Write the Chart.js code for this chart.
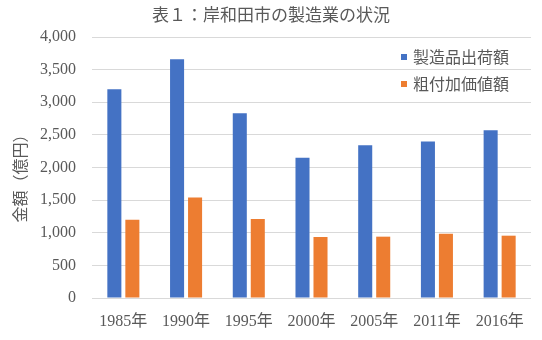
<!DOCTYPE html>
<html>
<head>
<meta charset="utf-8">
<script src="https://cdn.jsdelivr.net/npm/chart.js@4/dist/chart.umd.min.js"></script>
<style>
html,body{margin:0;padding:0;background:#fff;}
canvas{display:block;}
</style>
</head>
<body>
<canvas id="c" width="542" height="340"></canvas>
<script>
const categories = ['1985年','1990年','1995年','2000年','2005年','2011年','2016年'];
const shipmentValues = [3200, 3660, 2830, 2150, 2340, 2400, 2570];
const valueAddedValues = [1200, 1540, 1210, 935, 940, 985, 955];
const seriesNames = ['製造品出荷額', '粗付加価値額'];
const chartTitle = '表１：岸和田市の製造業の状況';
const yAxisTitle = '金額（億円）';

const TEXT = '#595959';
const FONT = "'Liberation Serif', 'Noto Sans CJK JP', serif";
const CJK = "'Noto Sans CJK JP', sans-serif";

const insideLegend = {
  id: 'insideLegend',
  afterDatasetsDraw(chart) {
    const ctx = chart.ctx;
    const a = chart.chartArea;
    ctx.save();
    ctx.font = "16px " + CJK;
    ctx.textBaseline = 'middle';
    ctx.textAlign = 'left';
    chart.data.datasets.forEach((ds, i) => {
      const y = a.top + 20 + i * 27;
      const x = a.right - 130;
      ctx.fillStyle = ds.backgroundColor;
      ctx.fillRect(x, y - 3, 6, 6);
      ctx.fillStyle = TEXT;
      ctx.fillText(ds.label, x + 12, y);
    });
    ctx.restore();
  }
};

const yTitlePlugin = {
  id: 'yTitlePlugin',
  afterDraw(chart) {
    const ctx = chart.ctx;
    const a = chart.chartArea;
    ctx.save();
    ctx.font = "16px " + CJK;
    ctx.fillStyle = TEXT;
    ctx.textAlign = 'center';
    ctx.textBaseline = 'middle';
    ctx.translate(20, (a.top + a.bottom) / 2 + 7);
    ctx.rotate(-Math.PI / 2);
    ctx.fillText(yAxisTitle, 0, 0);
    ctx.restore();
  }
};

new Chart(document.getElementById('c'), {
  type: 'bar',
  data: {
    labels: categories,
    datasets: [
      { label: seriesNames[0], data: shipmentValues, backgroundColor: '#4472C4',
        categoryPercentage: 0.574, barPercentage: 0.78 },
      { label: seriesNames[1], data: valueAddedValues, backgroundColor: '#ED7D31',
        categoryPercentage: 0.574, barPercentage: 0.78 }
    ]
  },
  options: {
    responsive: false,
    devicePixelRatio: 1,
    animation: false,
    layout: { padding: { left: 11, right: 11, top: 0, bottom: 0 } },
    plugins: {
      legend: { display: false },
      tooltip: { enabled: false },
      title: {
        display: true,
        text: chartTitle,
        color: TEXT,
        font: { family: CJK, size: 17, weight: 'normal', lineHeight: 1.2 },
        padding: { top: 4, bottom: 12.6 }
      }
    },
    scales: {
      x: {
        grid: { display: false, drawTicks: false },
        border: { display: false },
        ticks: { color: TEXT, font: { family: FONT, size: 16 }, padding: 14, maxRotation: 0, autoSkip: false },
        afterFit(scale) { scale.height = 42; }
      },
      y: {
        min: 0, max: 4000,
        grid: { color: '#D9D9D9', lineWidth: 1, drawTicks: false },
        border: { display: false },
        ticks: {
          stepSize: 500, color: TEXT, font: { family: FONT, size: 16 }, padding: 16,
          callback: (v) => v.toLocaleString('en-US')
        },
        afterFit(scale) { scale.width = 81; }
      }
    }
  },
  plugins: [insideLegend, yTitlePlugin]
});
</script>
</body>
</html>
